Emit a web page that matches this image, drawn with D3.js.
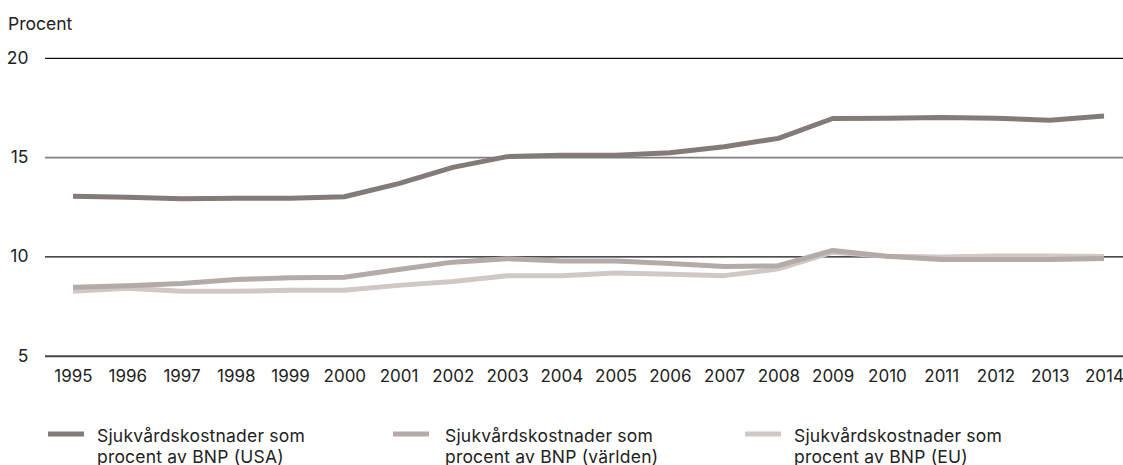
<!DOCTYPE html>
<html>
<head>
<meta charset="utf-8">
<script src="https://cdn.jsdelivr.net/npm/d3@7"></script>
<style>
  body { margin: 0; background: #fff; }
  svg { display: block; font-family: Inter, Roboto, sans-serif; }
</style>
</head>
<body>
<svg id="chart" width="1123" height="465"></svg>
<script>
var years = d3.range(1995, 2015)
var usa   = [13.05, 13.0, 12.93, 12.95, 12.95, 13.03, 13.69, 14.51, 15.05, 15.12, 15.12, 15.25, 15.55, 15.97, 16.97, 16.98, 17.02, 16.98, 16.88, 17.1]
var world = [8.48, 8.55, 8.66, 8.86, 8.96, 8.98, 9.37, 9.74, 9.91, 9.8, 9.8, 9.67, 9.52, 9.56, 10.33, 10.04, 9.87, 9.87, 9.87, 9.92]
var eu    = [8.28, 8.42, 8.27, 8.27, 8.32, 8.33, 8.57, 8.77, 9.05, 9.06, 9.19, 9.13, 9.06, 9.4, 10.24, 10.03, 10.0, 10.05, 10.05, 10.02]
var yTicks = [5, 10, 15, 20]
var seriesNames = [
    ['Sjukvårdskostnader som', 'procent av BNP (USA)'],
    ['Sjukvårdskostnader som', 'procent av BNP (världen)'],
    ['Sjukvårdskostnader som', 'procent av BNP (EU)']
]
var seriesColors = ['#847a78', '#b4aaa7', '#cfc8c5']

var font = 'Inter, Roboto, sans-serif'
var svg = d3.select('#chart')

var x = d3.scalePoint()
    .domain(years)
    .range([73, 1104])

var y = d3.scaleLinear()
    .domain([5, 20])
    .range([356.3, 58.3])

// gridlines
var gridStyle = { 5: ['#444', 2], 10: ['#111', 1.3], 15: ['#808080', 1.6], 20: ['#111', 1.3] }
var grid = svg.append('g')
grid.selectAll('line')
    .data(yTicks)
    .join('line')
      .attr('x1', 45)
      .attr('x2', 1123)
      .attr('y1', d=> y(d))
      .attr('y2', d=> y(d))
      .style('stroke', d=> gridStyle[d][0])
      .style('stroke-width', d=> gridStyle[d][1])

grid.selectAll('text')
    .data(yTicks)
    .join('text')
      .attr('x', 28.5)
      .attr('y', d=> y(d) + 5.5)
      .attr('text-anchor', 'end')
      .style('font-size', '17.5px')
      .style('fill', '#222')
      .text(d=> d)

svg.append('text')
    .attr('x', 8)
    .attr('y', 29.5)
    .style('font-size', '17.5px')
    .style('fill', '#222')
    .text('Procent')

// x axis labels
var xAxis = d3.axisBottom(x).tickSize(0).tickPadding(0)
var gx = svg.append('g')
    .attr('transform', 'translate(0,381.5)')
    .call(xAxis)
gx.select('.domain').remove()
gx.selectAll('text')
    .attr('dy', 0)
    .style('font-size', '17px')
    .style('font-family', font)
    .style('fill', '#222')

// lines
var line = d3.line()
    .x((d, i)=> x(years[i]))
    .y(d=> y(d))

var series = [usa, world, eu]
;[2, 1, 0].forEach(i=> {
    svg.append('path')
        .attr('d', line(series[i]))
        .style('fill', 'none')
        .style('stroke', seriesColors[i])
        .style('stroke-width', 5)
        .style('stroke-linejoin', 'round')
})

// legend
var swatchX = [48, 393, 745]
var textX = [97, 445, 794]
var legend = svg.selectAll('g.legend')
    .data(seriesNames)
    .join('g')
      .attr('class', 'legend')

legend.append('line')
    .attr('x1', (d, i)=> swatchX[i])
    .attr('x2', (d, i)=> swatchX[i] + 36)
    .attr('y1', 434)
    .attr('y2', 434)
    .style('stroke', (d, i)=> seriesColors[i])
    .style('stroke-width', 5)

legend.append('text')
    .attr('y', 441.7)
    .style('font-size', '17.5px')
    .style('letter-spacing', '0.2px')
    .style('fill', '#222')
    .each(function(d, i) {
        d3.select(this).selectAll('tspan')
            .data(d)
            .join('tspan')
              .attr('x', textX[i])
              .attr('dy', (t, j)=> j ? 21.7 : 0)
              .text(t=> t)
    })
</script>
</body>
</html>
